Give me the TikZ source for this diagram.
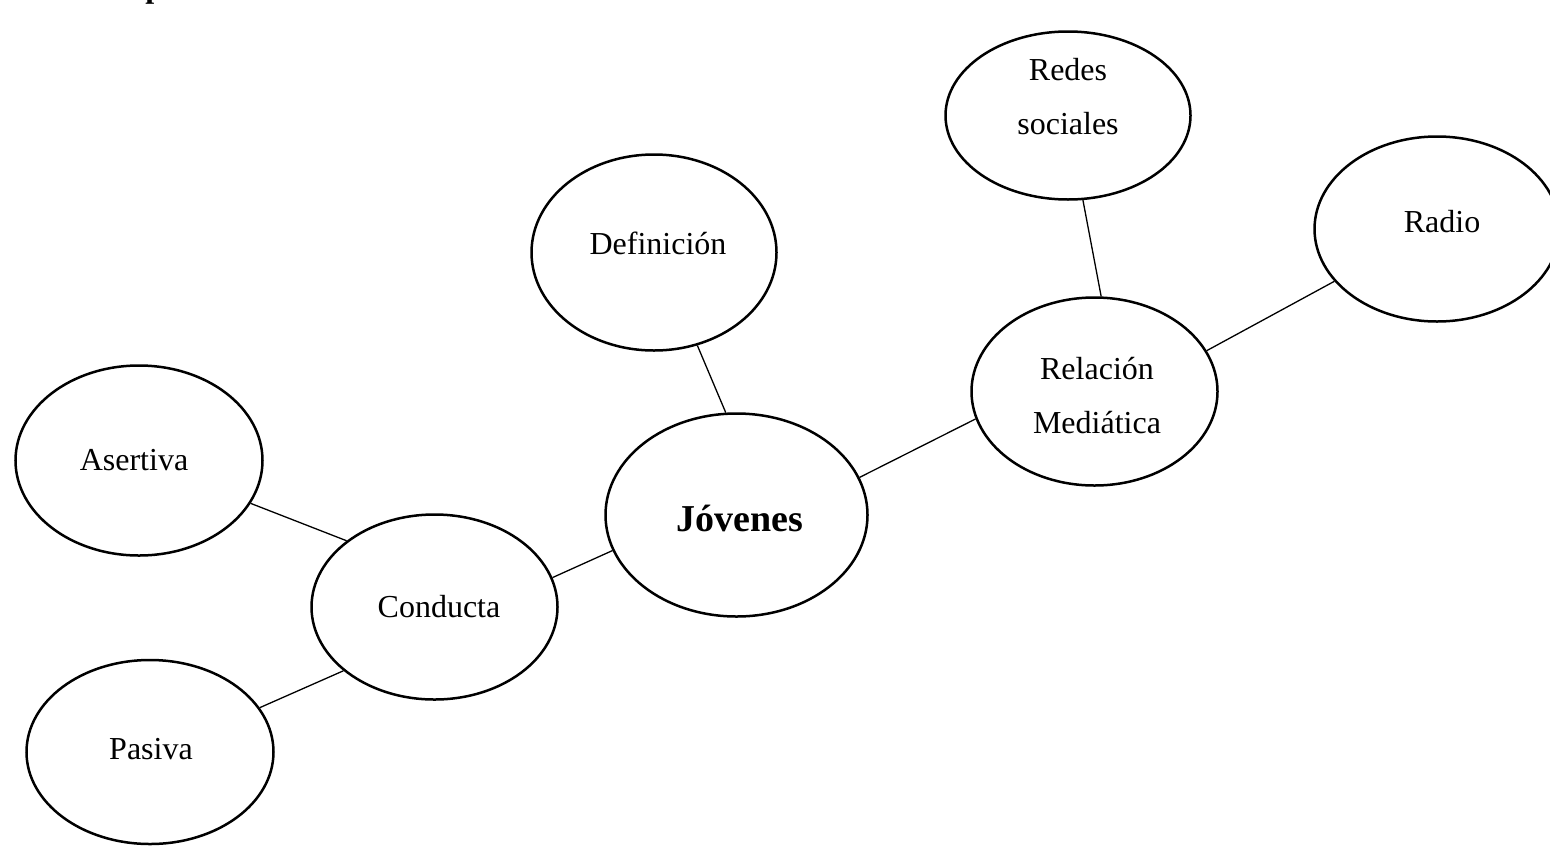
\documentclass[tikz,border=0pt]{standalone}
\usepackage{fontspec}
\setmainfont{Liberation Serif}
\usetikzlibrary{shapes.geometric}
\begin{document}
\begin{tikzpicture}[x=0.5pt,y=-0.5pt,
  ell/.style={draw=black,line width=1.25pt,ellipse,inner sep=0pt},
  lbl/.style={font=\fontsize{16}{27}\selectfont,align=center,inner sep=0pt},
  conn/.style={draw=black,line width=0.65pt}]
\useasboundingbox (0,0) rectangle (1550,846);
% ellipses
\node[ell,minimum width=122.5pt,minimum height=84pt] (redes) at (1068,115.5) {};
\node[ell,minimum width=122.5pt,minimum height=92.5pt] (radio) at (1437,229) {};
\node[ell,minimum width=122.5pt,minimum height=98pt] (def) at (654,252.5) {};
\node[ell,minimum width=123pt,minimum height=94pt] (rel) at (1094.5,391.5) {};
\node[ell,minimum width=131pt,minimum height=101.5pt] (jov) at (736.5,515) {};
\node[ell,minimum width=123.5pt,minimum height=95pt] (aser) at (139,460.5) {};
\node[ell,minimum width=123pt,minimum height=92.5pt] (cond) at (434.5,607) {};
\node[ell,minimum width=123.5pt,minimum height=92pt] (pas) at (150,752) {};
% texts
\node[lbl] (tredes) at (1068,97) {Redes\\sociales};
\node[lbl] (tradio) at (1442,222) {Radio};
\node[lbl] (tdef) at (658,243) {Definición};
\node[lbl] (trel) at (1097,396) {Relación\\Mediática};
\node[lbl,font=\fontsize{19}{23}\selectfont\bfseries] (tjov) at (740,518) {Jóvenes};
\node[lbl] (taser) at (134,460) {Asertiva};
\node[lbl] (tcond) at (439,607) {Conducta};
\node[lbl] (tpas) at (151,749) {Pasiva};
\node[anchor=base west,inner sep=0pt,font=\fontsize{16}{19}\selectfont\bfseries] (ttitle) at (145,-3) {p};
% connectors
\draw[conn] (def.-65.8) -- (jov.96.3);
\draw[conn] (redes.-80.9) -- (rel.86.1);
\draw[conn] (radio.207.9) -- (rel.20.7);
\draw[conn] (rel.193.1) -- (jov.17.1);
\draw[conn] (jov.196.6) -- (cond.14.8);
\draw[conn] (aser.-21.2) -- (cond.143.8);
\draw[conn] (pas.22.9) -- (cond.215.9);
\end{tikzpicture}
\end{document}
